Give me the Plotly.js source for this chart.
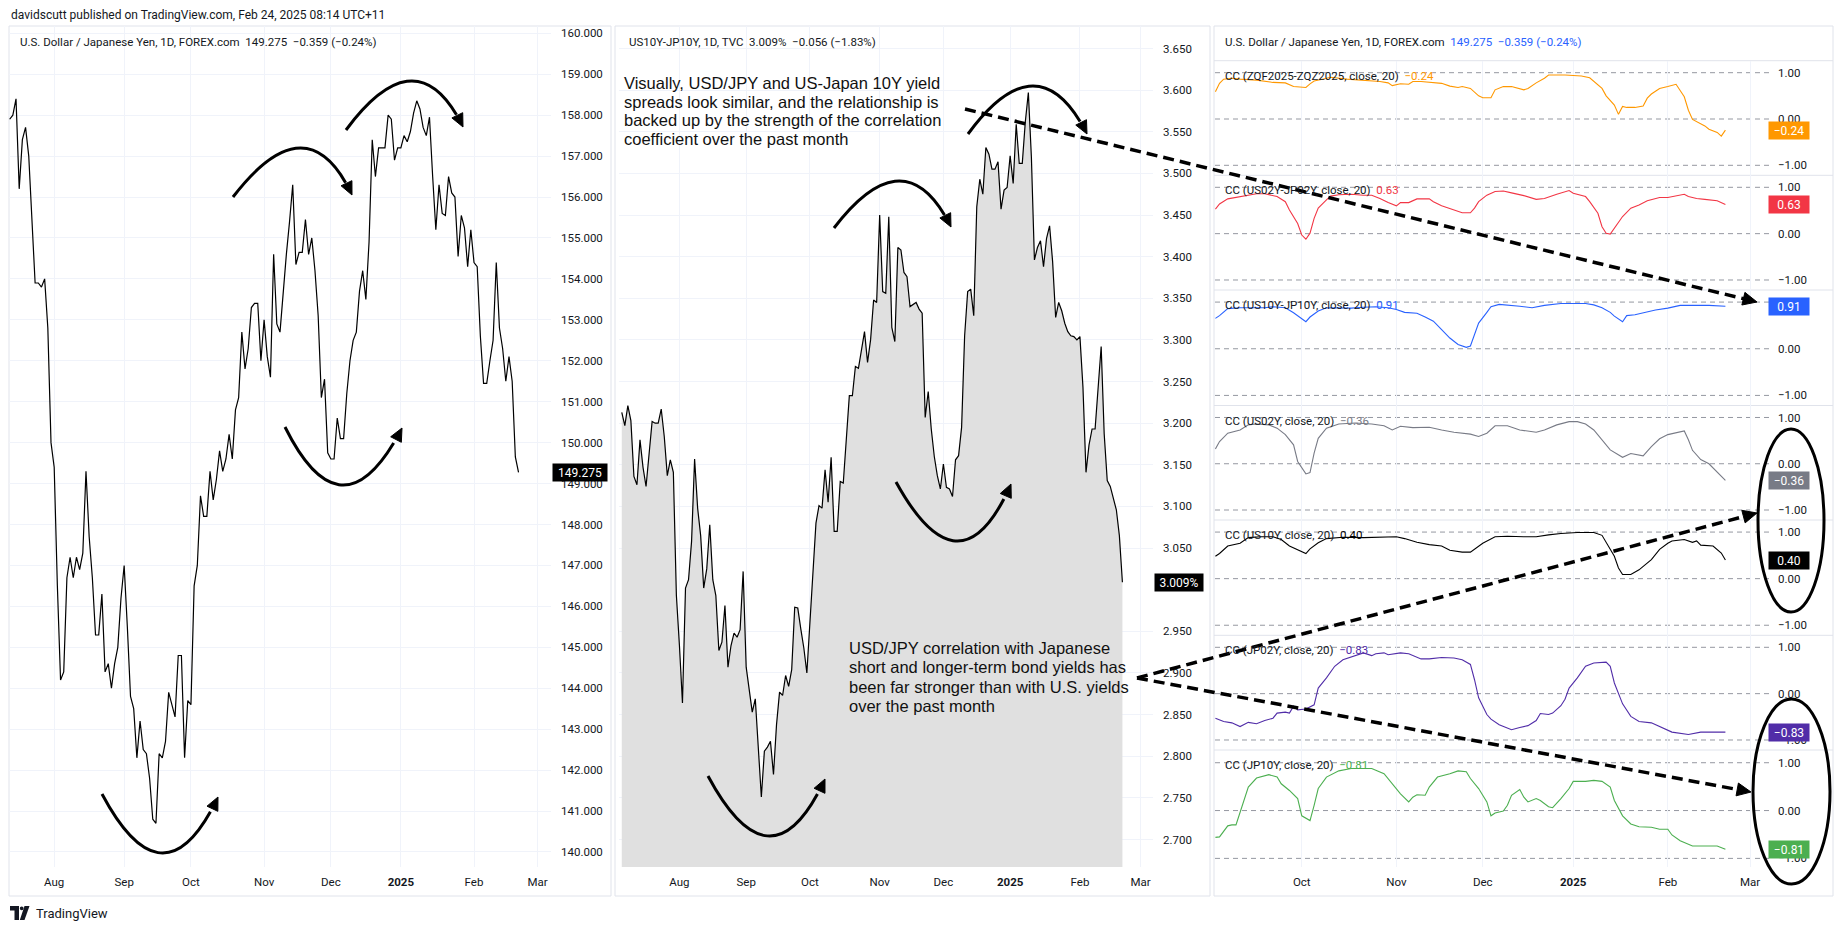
<!DOCTYPE html>
<html><head><meta charset="utf-8">
<script src="https://cdn.plot.ly/plotly-3.0.1.min.js"></script>
<style>html,body{margin:0;padding:0;background:#fff;}#chart{width:1841px;height:931px;}</style>
</head><body><div id="chart"></div>
<script>
// ---------------- DATA ----------------
// USD/JPY daily closes (weekdays from 2024-07-12 to 2025-02-21)
const usdjpyStart = '2024-07-12';
const usdjpy = [
 157.9,158.0,158.4,156.2,157.4,157.7,157.0,155.6,153.9,153.9,153.8,154.0,152.8,150.0,
 149.4,146.5,144.2,144.4,146.7,147.2,146.7,147.2,146.9,147.3,149.3,147.7,146.7,145.3,145.3,146.3,144.4,144.6,144.0,144.6,145.0,146.2,
 147.0,145.5,143.8,143.5,142.3,143.2,142.5,142.4,141.8,140.8,140.7,142.4,142.3,142.7,143.9,143.6,143.3,144.8,144.8,142.3,143.7,
 143.6,146.5,147.0,148.7,148.2,148.2,149.3,148.6,149.1,149.8,149.3,149.6,150.2,149.6,150.8,151.1,152.7,151.8,152.3,153.3,153.4,153.4,152.0,
 153.0,152.1,151.6,154.6,152.9,152.7,153.7,154.6,155.4,156.3,154.35,154.65,154.65,155.45,154.6,155.0,154.2,153.1,151.1,151.55,149.75,
 149.6,149.6,150.6,150.1,150.1,151.2,152.0,152.5,152.7,153.7,154.2,153.5,154.9,157.4,156.5,157.2,157.2,157.2,158.0,157.9,156.9,157.2,
 157.2,157.5,157.35,157.6,158.05,158.35,158.15,157.7,157.5,157.95,156.5,155.2,156.3,155.6,155.55,156.5,156.1,156.0,154.55,155.55,155.25,154.3,155.2,
 154.4,154.3,152.6,151.45,151.45,152.0,152.5,154.4,152.8,152.3,151.5,152.1,151.5,149.65,149.275
];
// US10Y-JP10Y spread (%), weekdays from 2024-07-05 to 2025-02-21
const spreadStart = '2024-07-05';
const spread = [
 3.213,3.197,3.221,3.203,3.136,3.126,3.180,3.147,3.124,3.164,3.202,3.200,3.200,3.217,3.184,3.137,3.156,3.141,2.993,
 2.933,2.864,3.002,3.012,3.058,3.157,3.098,3.065,3.002,3.025,3.078,3.012,2.993,2.927,2.937,2.981,2.907,2.933,2.948,2.943,2.952,3.022,
 2.907,2.877,2.853,2.869,2.815,2.751,2.806,2.811,2.818,2.778,2.838,2.877,2.873,2.897,2.884,2.904,2.979,2.978,2.953,2.930,2.900,
 2.960,3.016,3.080,3.101,3.098,3.144,3.105,3.159,3.070,3.070,3.130,3.128,3.180,3.233,3.233,3.268,3.266,3.289,3.310,3.273,3.300,3.348,3.345,
 3.450,3.358,3.356,3.448,3.315,3.298,3.411,3.408,3.381,3.376,3.340,3.343,3.345,3.337,3.332,3.207,3.238,3.193,3.160,3.137,3.121,
 3.151,3.123,3.121,3.112,3.156,3.161,3.195,3.305,3.358,3.361,3.329,3.460,3.493,3.475,3.531,3.523,3.505,3.505,3.514,3.457,3.480,3.483,
 3.521,3.488,3.559,3.512,3.512,3.562,3.597,3.520,3.396,3.411,3.419,3.388,3.422,3.437,3.394,3.327,3.345,3.335,3.320,3.310,3.305,3.304,3.300,
 3.304,3.243,3.141,3.174,3.193,3.193,3.243,3.292,3.187,3.131,3.124,3.110,3.096,3.065,3.009
];
// 20-day correlation coefficients; idx = weekday number counted from 2024-09-02
const ccStart = '2024-09-02';
const ccZqIdx = [0,1,2,4,6,10,14,17,19,22,23,24,26,28,32,36,40,42,43,45,47,48,50,55,57,59,60,62,64,65,67,68,70,72,75,76,78,80,81,85,87,89,91,92,94,95,97,98,99,100,102,104,105,106,108,110,112,114,115,116,117,119,120,122,123,124];
const ccZqVal = [0.59,0.77,0.86,0.88,0.86,0.84,0.79,0.78,0.70,0.68,0.76,0.82,0.86,0.90,0.86,0.84,0.81,0.78,0.72,0.76,0.75,0.81,0.81,0.77,0.71,0.68,0.70,0.66,0.50,0.46,0.46,0.63,0.70,0.70,0.63,0.66,0.78,0.88,0.95,0.95,0.94,0.93,0.89,0.82,0.66,0.50,0.30,0.10,0.27,0.25,0.25,0.28,0.45,0.54,0.66,0.70,0.75,0.48,0.19,-0.01,-0.06,-0.15,-0.22,-0.29,-0.37,-0.24];
const ccUs2Jp2Idx = [0,1,3,6,8,10,12,14,15,17,18,20,21,22,23,24,25,27,28,30,33,36,38,40,42,44,45,47,49,52,53,55,58,60,62,63,64,66,68,70,72,75,78,80,83,86,87,90,91,93,94,95,96,98,99,101,103,105,108,110,112,114,115,117,119,122,124];
const ccUs2Jp2Val = [0.53,0.64,0.75,0.80,0.83,0.86,0.86,0.83,0.80,0.69,0.51,0.22,-0.03,-0.12,0.01,0.33,0.55,0.73,0.81,0.84,0.85,0.83,0.83,0.76,0.67,0.60,0.67,0.67,0.75,0.75,0.69,0.60,0.51,0.45,0.45,0.55,0.69,0.83,0.91,0.92,0.88,0.82,0.74,0.76,0.85,0.93,0.87,0.80,0.69,0.44,0.15,0.01,-0.01,0.26,0.37,0.55,0.62,0.71,0.78,0.78,0.82,0.85,0.80,0.76,0.74,0.71,0.63];
const ccUs10Jp10Idx = [0,1,3,6,9,12,14,17,19,21,22,23,25,27,30,33,36,39,42,44,46,49,51,53,55,57,59,61,62,63,64,66,67,69,71,74,77,80,84,87,90,92,94,96,97,99,100,102,104,107,110,113,116,120,124];
const ccUs10Jp10Val = [0.65,0.71,0.86,0.88,0.88,0.88,0.90,0.88,0.77,0.64,0.58,0.68,0.81,0.88,0.87,0.87,0.89,0.90,0.88,0.84,0.78,0.76,0.68,0.59,0.41,0.23,0.09,0.03,0.06,0.30,0.55,0.78,0.90,0.95,0.94,0.91,0.88,0.93,0.97,0.97,0.97,0.94,0.88,0.78,0.70,0.58,0.71,0.73,0.77,0.83,0.87,0.93,0.93,0.93,0.91];
const ccUs2Idx = [0,1,3,6,8,10,13,15,17,19,20,22,23,24,25,27,30,34,38,41,43,45,48,52,55,58,62,64,66,68,71,74,78,80,83,86,88,90,92,94,96,99,101,104,106,108,110,114,115,116,118,120,122,124];
const ccUs2Val = [0.32,0.48,0.66,0.73,0.84,0.86,0.84,0.77,0.63,0.41,0.05,-0.22,-0.19,0.23,0.55,0.77,0.86,0.88,0.86,0.82,0.73,0.81,0.78,0.79,0.73,0.68,0.64,0.59,0.66,0.82,0.82,0.73,0.68,0.73,0.84,0.91,0.91,0.86,0.73,0.52,0.30,0.14,0.22,0.17,0.37,0.54,0.63,0.71,0.52,0.29,0.09,0.00,-0.17,-0.36];
const ccUs10Idx = [0,1,3,6,8,11,14,16,18,21,22,23,25,27,31,36,41,44,46,49,52,55,57,60,62,63,65,68,71,75,78,81,84,88,92,94,95,97,98,99,101,103,106,108,110,111,114,116,117,118,121,123,124];
const ccUs10Val = [0.48,0.54,0.70,0.76,0.88,0.90,0.90,0.84,0.70,0.59,0.54,0.64,0.77,0.86,0.89,0.88,0.90,0.90,0.86,0.78,0.73,0.70,0.61,0.57,0.57,0.63,0.76,0.90,0.91,0.90,0.90,0.94,0.97,0.99,0.99,0.93,0.77,0.48,0.23,0.09,0.09,0.19,0.41,0.63,0.76,0.81,0.84,0.78,0.81,0.72,0.70,0.55,0.40];
const ccJp2Idx = [0,2,4,6,8,10,12,14,15,17,18,19,20,22,24,25,27,29,31,34,36,38,39,41,42,45,47,50,52,55,58,60,62,63,64,66,67,69,72,74,76,78,79,81,82,84,85,86,88,90,92,95,96,97,99,101,103,106,109,111,115,118,121,124];
const ccJp2Val = [-0.53,-0.60,-0.63,-0.71,-0.62,-0.65,-0.58,-0.53,-0.42,-0.40,-0.42,-0.27,-0.35,-0.33,-0.24,0.12,0.34,0.59,0.73,0.82,0.88,0.82,0.86,0.88,0.84,0.88,0.86,0.75,0.75,0.78,0.77,0.73,0.63,0.30,-0.09,-0.45,-0.55,-0.67,-0.78,-0.73,-0.69,-0.58,-0.43,-0.45,-0.42,-0.26,-0.12,0.12,0.34,0.59,0.66,0.68,0.59,0.23,-0.22,-0.49,-0.60,-0.63,-0.74,-0.83,-0.88,-0.83,-0.83,-0.83];
const ccJp10Idx = [0,1,3,4,5,7,8,10,11,13,15,16,18,20,21,23,24,25,27,30,33,36,38,41,43,45,47,48,49,51,52,54,57,59,61,62,64,66,67,68,70,71,72,74,75,76,78,79,81,82,84,85,86,87,90,92,94,96,97,99,101,103,106,108,110,111,113,116,118,120,122,124];
const ccJp10Val = [-0.56,-0.55,-0.32,-0.30,-0.30,0.21,0.49,0.68,0.70,0.75,0.70,0.56,0.42,0.25,-0.11,-0.21,0.11,0.46,0.70,0.83,0.88,0.88,0.88,0.77,0.56,0.35,0.18,0.28,0.33,0.32,0.49,0.70,0.77,0.83,0.81,0.67,0.46,0.18,-0.11,-0.05,-0.01,0.11,0.32,0.44,0.28,0.18,0.25,0.21,0.08,0.06,0.25,0.35,0.46,0.61,0.61,0.63,0.61,0.49,0.21,-0.11,-0.28,-0.34,-0.35,-0.39,-0.39,-0.51,-0.63,-0.74,-0.74,-0.75,-0.74,-0.81];
const ccNames = ['CC (ZQF2025-ZQZ2025, close, 20)','CC (US02Y-JP02Y, close, 20)','CC (US10Y-JP10Y, close, 20)','CC (US02Y, close, 20)','CC (US10Y, close, 20)','CC (JP02Y, close, 20)','CC (JP10Y, close, 20)'];
const ccLastText = ['\u22120.24','0.63','0.91','\u22120.36','0.40','\u22120.83','\u22120.81'];
const ccLastVal = [-0.24,0.63,0.91,-0.36,0.40,-0.83,-0.81];
// Axis ticks (labels hidden behind a last-value tag in the reference are left out)
const monthTickDates = ['2024-08-01','2024-09-02','2024-10-01','2024-11-01','2024-12-02','2025-01-01','2025-02-03','2025-03-03'];
const monthTickText = ['Aug','Sep','Oct','Nov','Dec','<b>2025</b>','Feb','Mar'];
const jpyTicks = [140,141,142,143,144,145,146,147,148,149,150,151,152,153,154,155,156,157,158,159,160];
const spreadTicks = [2.70,2.75,2.80,2.85,2.90,2.95,3.05,3.10,3.15,3.20,3.25,3.30,3.35,3.40,3.45,3.50,3.55,3.60,3.65];
const ccTicks = [-1,0,1];
const ccTicksShown = [[-1,0,1],[-1,0,1],[-1,0],[-1,0,1],[-1,0,1],[-1,0,1],[-1,0,1]];

// ---------------- HELPERS ----------------
const W = 1841, H = 931;
const px = x => x / W, py = y => 1 - y / H;
const FONT = 'Roboto, "Liberation Sans", Arial, sans-serif';
const AFONT = '"Liberation Sans", Arial, sans-serif';
const TXT = '#131722', GRID = '#f0f3fa', BORDER = '#e0e3eb';
function weekdays(start, n) {
  const out = []; const d = new Date(start + 'T00:00:00Z');
  while (out.length < n) { const w = d.getUTCDay(); if (w !== 0 && w !== 6) out.push(d.toISOString().slice(0, 10)); d.setUTCDate(d.getUTCDate() + 1); }
  return out;
}
const ccColors = ['#ff9800','#f23645','#2962ff','#787b86','#000000','#512da8','#4caf50'];
const ccIdx = [ccZqIdx,ccUs2Jp2Idx,ccUs10Jp10Idx,ccUs2Idx,ccUs10Idx,ccJp2Idx,ccJp10Idx];
const ccVal = [ccZqVal,ccUs2Jp2Val,ccUs10Jp10Val,ccUs2Val,ccUs10Val,ccJp2Val,ccJp10Val];
const ccDates = weekdays(ccStart, 130);

// ---------------- TRACES ----------------
const traces = [];
traces.push({type:'scatter', mode:'lines', x: weekdays(usdjpyStart, usdjpy.length), y: usdjpy, line:{color:'#000', width:1.2}, xaxis:'x', yaxis:'y', hoverinfo:'skip'});
traces.push({type:'scatter', mode:'lines', x: weekdays(spreadStart, spread.length), y: spread, line:{color:'#000', width:1.2}, fill:'tozeroy', fillcolor:'#e0e0e0', xaxis:'x2', yaxis:'y2', hoverinfo:'skip'});
for (let k = 0; k < 7; k++) {
  traces.push({type:'scatter', mode:'lines', x: ccIdx[k].map(i => ccDates[i]), y: ccVal[k], line:{color: ccColors[k], width:1.1}, xaxis:'x' + (k + 3), yaxis:'y' + (k + 3), hoverinfo:'skip'});
}

// ---------------- LAYOUT ----------------
const tickFont = {family: FONT, size: 11.5, color: TXT};
function xAx(domain, range, tv, tt, show, anchor) {
  return {domain, anchor, type:'date', range, rangebreaks:[{bounds:['sat','mon']}], tickmode:'array', tickvals:tv, ticktext:tt,
    showticklabels: show, showgrid:true, gridcolor:GRID, gridwidth:1, zeroline:false, showline:false, ticks:'', ticklabelstandoff:6, tickfont:tickFont, fixedrange:true};
}
function yAx(domain, range, tv, anchor, fmt, suffix, grid) {
  return {domain, anchor, side:'right', range, tickmode:'array', tickvals:tv, tickformat:fmt, ticksuffix:suffix || '',
    showgrid: grid, gridcolor:GRID, gridwidth:1, zeroline:false, showline:false, ticks:'', ticklabelstandoff:9, tickfont:tickFont, fixedrange:true};
}
const layout = {
  width: W, height: H, margin:{l:0, r:0, t:0, b:0, pad:0}, paper_bgcolor:'#fff', plot_bgcolor:'#fff', showlegend:false, hovermode:false,
  xaxis: xAx([px(9), px(551)], ['2024-07-11 19:00','2025-03-07 05:00'], monthTickDates, monthTickText, true, 'y'),
  yaxis: yAx([py(867), py(26)], [139.633, 160.178], jpyTicks, 'x', '.3f', '', true),
  xaxis2: xAx([px(619), px(1153)], ['2024-07-04 02:00','2025-03-07 02:00'], monthTickDates, monthTickText, true, 'y2'),
  yaxis2: yAx([py(867), py(26)], [2.667, 3.677], spreadTicks, 'x2', '.3f', '%', true),
  shapes: [], annotations: []
};
const subTop = [60.7, 175.3, 290.0, 405.5, 520.0, 635.3, 750.0];
const subBot = [175.3, 290.0, 405.5, 520.0, 635.3, 750.0, 867];
for (let k = 0; k < 7; k++) {
  const n = k + 3;
  const rng = k === 6 ? [-1.18, 1.266] : [-1.216, 1.259];
  layout['xaxis' + n] = xAx([px(1215), px(1769)], ['2024-08-30 21:36','2025-03-07 14:24'], monthTickDates.slice(2), monthTickText.slice(2), k === 6, 'y' + n);
  layout['yaxis' + n] = yAx([py(subBot[k]), py(subTop[k])], rng, ccTicksShown[k], 'x' + n, '.2f', '', false);
  layout['yaxis' + n].ticklabelstandoff = 8;
}

const shapes = layout.shapes, ann = layout.annotations;
function rectPx(x0, y0, x1, y1, color, width) {
  shapes.push({type:'rect', xref:'paper', yref:'paper', x0:px(x0), x1:px(x1), y0:py(y1), y1:py(y0), line:{color, width}, fillcolor:'rgba(0,0,0,0)', layer:'below'});
}
function linePx(x0, y0, x1, y1, color, width, dash, layer) {
  shapes.push({type:'line', xref:'paper', yref:'paper', x0:px(x0), y0:py(y0), x1:px(x1), y1:py(y1), line:{color, width, dash: dash || 'solid'}, layer: layer || 'above'});
}
function P(p) { return px(p[0]) + ' ' + py(p[1]); }
function head(tip, from, len, half) {
  const dx = tip[0] - from[0], dy = tip[1] - from[1], L = Math.hypot(dx, dy), ux = dx / L, uy = dy / L;
  const bx = tip[0] - ux * len, by = tip[1] - uy * len, nx = -uy, ny = ux;
  shapes.push({type:'path', xref:'paper', yref:'paper', path:'M ' + P(tip) + ' L ' + P([bx + nx * half, by + ny * half]) + ' L ' + P([bx - nx * half, by - ny * half]) + ' Z', fillcolor:'#000', line:{color:'#000', width:1}});
}
function curved(S, M, E) {
  const Q = [2 * M[0] - (S[0] + E[0]) / 2, 2 * M[1] - (S[1] + E[1]) / 2];
  const t = 0.93;
  const Q1 = [S[0] + t * (Q[0] - S[0]), S[1] + t * (Q[1] - S[1])];
  const B = [(1 - t) * (1 - t) * S[0] + 2 * (1 - t) * t * Q[0] + t * t * E[0], (1 - t) * (1 - t) * S[1] + 2 * (1 - t) * t * Q[1] + t * t * E[1]];
  shapes.push({type:'path', xref:'paper', yref:'paper', path:'M ' + P(S) + ' Q ' + P(Q1) + ' ' + P(B), line:{color:'#000', width:3}});
  head(E, Q, 13, 6);
}
function dashedArrow(S, E) {
  const dx = E[0] - S[0], dy = E[1] - S[1], L = Math.hypot(dx, dy);
  linePx(S[0], S[1], E[0] - dx / L * 10, E[1] - dy / L * 10, '#000', 3.5, '11px,6px');
  head(E, S, 14, 6.5);
}

// pane frames
rectPx(9, 26, 611, 896, BORDER, 1);
rectPx(615, 26, 1210, 896, BORDER, 1);
rectPx(1214, 26, 1833, 896, BORDER, 1);
for (let k = 0; k < 7; k++) linePx(1214, subTop[k], 1833, subTop[k], BORDER, 1, 'solid', 'below');
// correlation bands
for (let k = 0; k < 7; k++) {
  for (const v of ccTicks) {
    shapes.push({type:'line', xref:'x' + (k + 3) + ' domain', x0:0, x1:1, yref:'y' + (k + 3), y0:v, y1:v, line:{color:'#9598a1', width:1, dash:'5px,4px'}, layer:'below'});
  }
}
// hand-drawn curved arrows
curved([233,197],[300,148],[352,195]);
curved([346,130],[411,81],[463,127]);
curved([285,427],[343,485],[402,428]);
curved([102,794],[162,853],[218,797]);
curved([834,228],[899,181],[951,227]);
curved([968,134],[1033,86],[1087,134]);
curved([896,482],[957,541],[1011,484]);
curved([708,776],[769,836],[825,779]);
// dashed arrows
dashedArrow([965,109],[1757,302]);
dashedArrow([1137,678],[1757,513]);
dashedArrow([1137,678],[1751,792]);
// ellipses
shapes.push({type:'circle', xref:'paper', yref:'paper', x0:px(1758), x1:px(1824), y0:py(612), y1:py(429), line:{color:'#000', width:3}});
shapes.push({type:'circle', xref:'paper', yref:'paper', x0:px(1753), x1:px(1830), y0:py(884), y1:py(699), line:{color:'#000', width:3}});
// TradingView logo mark
shapes.push({type:'path', xref:'paper', yref:'paper', path:'M '+P([10,906])+' L '+P([19,906])+' L '+P([19,920])+' L '+P([14.5,920])+' L '+P([14.5,910.5])+' L '+P([10,910.5])+' Z', fillcolor:TXT, line:{width:0}});
shapes.push({type:'circle', xref:'paper', yref:'paper', x0:px(19.8), x1:px(23.6), y0:py(910.2), y1:py(906.4), fillcolor:TXT, line:{width:0}});
shapes.push({type:'path', xref:'paper', yref:'paper', path:'M '+P([24.5,906])+' L '+P([29.5,906])+' L '+P([24.5,920])+' L '+P([19.8,920])+' Z', fillcolor:TXT, line:{width:0}});

// texts
function txt(x, y, text, font, extra) {
  ann.push(Object.assign({xref:'paper', yref:'paper', x:px(x), y:py(y), text, showarrow:false, xanchor:'left', yanchor:'middle', font: font || {family:FONT, size:11.5, color:TXT}}, extra || {}));
}
const NB = '\u00a0\u00a0';
txt(9, 15, 'davidscutt published on TradingView.com, Feb 24, 2025 08:14 UTC+11', {family:FONT, size:12, color:TXT});
txt(18, 42, 'U.S. Dollar / Japanese Yen, 1D, FOREX.com' + NB + '149.275' + NB + '\u22120.359 (\u22120.24%)');
txt(627, 42, 'US10Y-JP10Y, 1D, TVC' + NB + '3.009%' + NB + '\u22120.056 (\u22121.83%)');
txt(1223, 42, 'U.S. Dollar / Japanese Yen, 1D, FOREX.com' + NB + '<span style="color:#2962ff">149.275' + NB + '\u22120.359 (\u22120.24%)</span>');
for (let k = 0; k < 7; k++) {
  txt(1223, subTop[k] + 15, ccNames[k] + NB + '<span style="color:' + ccColors[k] + '">' + ccLastText[k] + '</span>');
}
txt(34, 913, 'TradingView', {family:FONT, size:13, color:TXT});
// commentary
const A = {family: AFONT, size: 16.5, color:'#111'};
const note1 = ['Visually, USD/JPY and US-Japan 10Y yield','spreads look similar, and the relationship is','backed up by the strength of the correlation','coefficient over the past month'];
const note1Y = [83, 101.5, 120, 138.5];
note1.forEach((s, i) => txt(622, note1Y[i], s, A));
const note2 = ['USD/JPY correlation with Japanese','short and longer-term bond yields has','been far stronger than with U.S. yields','over the past month'];
const note2Y = [648, 667, 686.5, 705.5];
note2.forEach((s, i) => txt(847, note2Y[i], s, A));
// last-value tags
function tag(cx, yref, y, text, bg, w) {
  ann.push({xref:'paper', x:px(cx), yref, y, text, showarrow:false, xanchor:'center', yanchor:'middle', bgcolor:bg, width:w, height:15, borderpad:1, font:{family:FONT, size:12, color:'#fff'}});
}
tag(580, 'y', 149.275, '149.275', '#000', 52);
tag(1179, 'y2', 3.009, '3.009%', '#000', 46);
for (let k = 0; k < 7; k++) tag(1789, 'y' + (k + 3), ccLastVal[k], ccLastText[k], ccColors[k], 38);

Plotly.newPlot('chart', traces, layout, {staticPlot:true, displayModeBar:false});
</script>
</body></html>
